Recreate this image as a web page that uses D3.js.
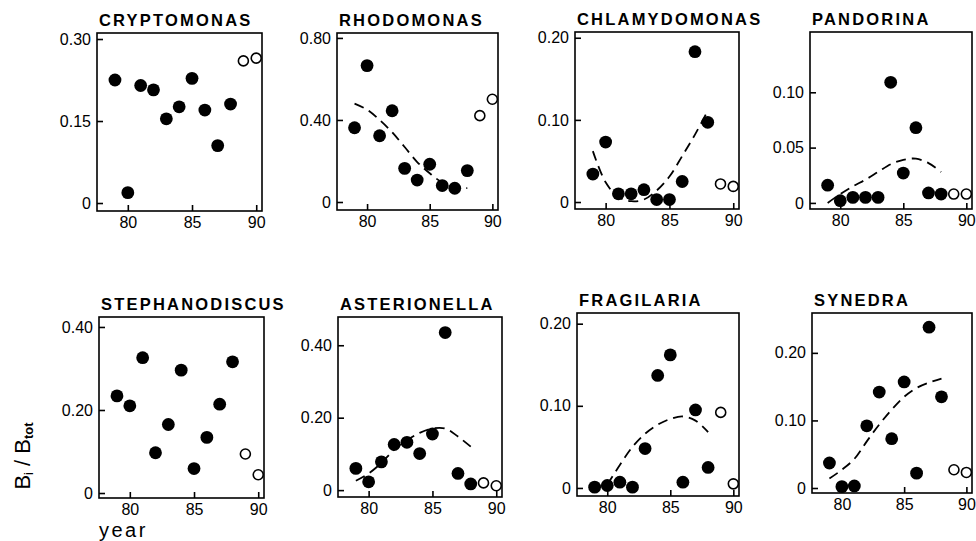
<!DOCTYPE html>
<html>
<head>
<meta charset="utf-8">
<script src="https://cdn.jsdelivr.net/npm/d3@7"></script>
<style>
  html, body { margin: 0; padding: 0; background: #fff; }
  svg { display: block; }
</style>
</head>
<body>
<svg id="chart" width="976" height="541"></svg>
<script>
// ---------- data ----------
const years = [79, 80, 81, 82, 83, 84, 85, 86, 87, 88];
const openYears = [89, 90];
const fitYears = [79, 80, 81, 82, 83, 84, 85, 86, 87, 88];
const xTicks = [80, 85, 90];

const cryptomonas      = [0.225, 0.019, 0.215, 0.207, 0.154, 0.176, 0.228, 0.170, 0.105, 0.181];
const cryptomonasOpen  = [0.260, 0.265];

const rhodomonas       = [0.362, 0.665, 0.323, 0.445, 0.164, 0.107, 0.184, 0.080, 0.067, 0.153];
const rhodomonasOpen   = [0.421, 0.501];
const rhodomonasFit    = [0.480, 0.450, 0.400, 0.340, 0.268, 0.195, 0.140, 0.095, 0.070, 0.068];

const chlamydomonas     = [0.034, 0.073, 0.010, 0.010, 0.015, 0.003, 0.003, 0.025, 0.183, 0.097];
const chlamydomonasOpen = [0.022, 0.019];
const chlamydomonasFit  = [0.062, 0.024, 0.006, 0.001, 0.003, 0.014, 0.031, 0.056, 0.082, 0.111];

const pandorina      = [0.016, 0.002, 0.005, 0.005, 0.005, 0.109, 0.027, 0.068, 0.009, 0.008];
const pandorinaOpen  = [0.008, 0.008];
const pandorinaFit   = [0.000, 0.008, 0.015, 0.021, 0.028, 0.035, 0.039, 0.040, 0.036, 0.028];

const stephanodiscus     = [0.234, 0.210, 0.326, 0.097, 0.165, 0.296, 0.059, 0.134, 0.214, 0.316];
const stephanodiscusOpen = [0.094, 0.044];

const asterionella     = [0.060, 0.023, 0.078, 0.126, 0.132, 0.101, 0.155, 0.435, 0.046, 0.017];
const asterionellaOpen = [0.020, 0.012];
const asterionellaFit  = [0.026, 0.046, 0.075, 0.112, 0.138, 0.158, 0.170, 0.170, 0.148, 0.120];

const fragilaria     = [0.001, 0.003, 0.007, 0.001, 0.048, 0.137, 0.162, 0.007, 0.095, 0.025];
const fragilariaOpen = [0.092, 0.005];
const fragilariaFit  = [null, 0.004, 0.028, 0.050, 0.066, 0.077, 0.084, 0.087, 0.082, 0.068];

const synedra     = [0.037, 0.002, 0.003, 0.092, 0.142, 0.073, 0.157, 0.022, 0.238, 0.135];
const synedraOpen = [0.027, 0.023];
const synedraFit  = [0.014, 0.027, 0.043, 0.069, 0.094, 0.116, 0.135, 0.148, 0.156, 0.162];

const titles = ["CRYPTOMONAS", "RHODOMONAS", "CHLAMYDOMONAS", "PANDORINA",
                "STEPHANODISCUS", "ASTERIONELLA", "FRAGILARIA", "SYNEDRA"];
const yTicks = [
  [0, 0.15, 0.30], [0, 0.40, 0.80], [0, 0.10, 0.20], [0, 0.05, 0.10],
  [0, 0.20, 0.40], [0, 0.20, 0.40], [0, 0.10, 0.20], [0, 0.10, 0.20]
];
const yTickLabels = [
  ["0", "0.15", "0.30"], ["0", "0.40", "0.80"], ["0", "0.10", "0.20"], ["0", "0.05", "0.10"],
  ["0", "0.20", "0.40"], ["0", "0.20", "0.40"], ["0", "0.10", "0.20"], ["0", "0.10", "0.20"]
];
const yDomains = [
  [-0.0146, 0.311], [-0.039, 0.824], [-0.0085, 0.207], [-0.0055, 0.1545],
  [-0.012, 0.424], [-0.019, 0.478], [-0.0098, 0.213], [-0.0074, 0.259]
];
const solidSeries = [cryptomonas, rhodomonas, chlamydomonas, pandorina,
                     stephanodiscus, asterionella, fragilaria, synedra];
const openSeries = [cryptomonasOpen, rhodomonasOpen, chlamydomonasOpen, pandorinaOpen,
                    stephanodiscusOpen, asterionellaOpen, fragilariaOpen, synedraOpen];
const fitSeries = [null, rhodomonasFit, chlamydomonasFit, pandorinaFit,
                   null, asterionellaFit, fragilariaFit, synedraFit];

// ---------- layout (pixel boxes of the panels) ----------
const boxes = [
  {l: 97,  r: 262, t: 33,  b: 211},
  {l: 337, r: 498, t: 33,  b: 210},
  {l: 575, r: 739, t: 32,  b: 209},
  {l: 810, r: 972, t: 32,  b: 209},
  {l: 99,  r: 264, t: 317, b: 498},
  {l: 338, r: 502, t: 317, b: 497},
  {l: 577, r: 739, t: 313, b: 496},
  {l: 812, r: 972, t: 313, b: 493}
];
const xDomain = [77.6, 90.45];

const svg = d3.select("#chart");
const FONT = "'Liberation Sans', Arial, sans-serif";

boxes.forEach((bx, i) => {
  const x = d3.scaleLinear().domain(xDomain).range([bx.l, bx.r]);
  const y = d3.scaleLinear().domain(yDomains[i]).range([bx.b, bx.t]);
  const g = svg.append("g");

  // frame
  g.append("rect")
    .attr("x", bx.l).attr("y", bx.t)
    .attr("width", bx.r - bx.l).attr("height", bx.b - bx.t)
    .attr("fill", "none").attr("stroke", "#000").attr("stroke-width", 1.6);

  // axes with inward ticks
  const yAxis = d3.axisLeft(y).tickValues(yTicks[i])
    .tickFormat((d, k) => yTickLabels[i][k]).tickSizeInner(-6).tickSizeOuter(0).tickPadding(6);
  const ya = g.append("g").attr("transform", `translate(${bx.l},0)`).call(yAxis);
  const xAxis = d3.axisBottom(x).tickValues(xTicks).tickFormat(d3.format("d"))
    .tickSizeInner(-6).tickSizeOuter(0).tickPadding(5);
  const xa = g.append("g").attr("transform", `translate(0,${bx.b})`).call(xAxis);
  [ya, xa].forEach(a => {
    a.select(".domain").remove();
    a.selectAll(".tick line").attr("stroke", "#000").attr("stroke-width", 1.6);
    a.selectAll(".tick text").attr("fill", "#000")
      .style("font-family", FONT).style("font-size", "16px");
  });
  xa.selectAll(".tick text").attr("dy", "0.72em");

  // title
  g.append("text")
    .attr("x", bx.l + 2).attr("y", bx.t - 7)
    .style("font-family", FONT).style("font-size", "16.5px").style("font-weight", "bold")
    .style("letter-spacing", "2.2px")
    .text(titles[i]);

  // dashed fit
  const fit = fitSeries[i];
  if (fit) {
    const pts = fitYears.map((yr, k) => [yr, fit[k]]).filter(p => p[1] !== null);
    const line = d3.line().x(p => x(p[0])).y(p => y(p[1])).curve(d3.curveCatmullRom.alpha(0.5));
    g.append("path").attr("d", line(pts))
      .attr("fill", "none").attr("stroke", "#000").attr("stroke-width", 1.8)
      .attr("stroke-dasharray", "10,6");
  }

  // filled points
  g.append("g").selectAll("circle").data(solidSeries[i]).join("circle")
    .attr("cx", (d, k) => x(years[k])).attr("cy", d => y(d)).attr("r", 6.4)
    .attr("fill", "#000");

  // open points
  g.append("g").selectAll("circle").data(openSeries[i]).join("circle")
    .attr("cx", (d, k) => x(openYears[k])).attr("cy", d => y(d)).attr("r", 5)
    .attr("fill", "#fff").attr("stroke", "#000").attr("stroke-width", 1.6);
});

// y axis label
const yl = svg.append("text")
  .attr("transform", "translate(30,456) rotate(-90)")
  .attr("text-anchor", "middle")
  .style("font-family", FONT).style("font-size", "22px");
yl.append("tspan").text("B");
yl.append("tspan").attr("dy", "3").style("font-size", "13px").text("i");
yl.append("tspan").attr("dy", "-3").text("  /  ");
yl.append("tspan").text("B");
yl.append("tspan").attr("dy", "3").style("font-size", "13px").style("font-weight", "bold").text("tot");

// x label
svg.append("text")
  .attr("x", 99).attr("y", 537)
  .style("font-family", FONT).style("font-size", "20px").style("letter-spacing", "2.5px")
  .text("year");
</script>
</body>
</html>
